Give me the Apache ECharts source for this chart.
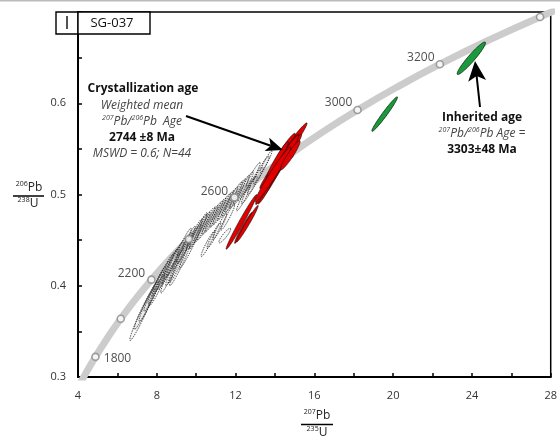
<!DOCTYPE html>
<html><head><meta charset="utf-8">
<script src="https://cdn.jsdelivr.net/npm/echarts@6/dist/echarts.min.js"></script>
<style>html,body{margin:0;padding:0;background:#fff}#c{width:560px;height:436px}</style>
</head><body><div id="c"></div>
<script>
// Concordia curve (ages in Ma) read along the gray band
const concAge = [1600,1700,1800,1900,2000,2100,2200,2300,2400,2500,2600,2700,2800,2900,3000,3100,3200,3300,3400,3500];
const concX = [3.834,4.335,4.887,5.496,6.169,6.910,7.729,8.633,9.630,10.730,11.944,13.283,14.762,16.393,18.193,20.180,22.372,24.791,27.460,30.405];
const concY = [0.2817,0.3018,0.3221,0.3428,0.3638,0.3851,0.4067,0.4287,0.4511,0.4738,0.4968,0.5202,0.5440,0.5681,0.5926,0.6175,0.6428,0.6685,0.6946,0.7211];
const markerAges = [1800,2000,2200,2400,2600,2800,3000,3200,3400];
const labeledAges = [1800,2200,2600,3000,3200];

// Error ellipses: [x(207Pb/235U), y(206Pb/238U), sx, sy, rho]
const grayEllipses = [
  [7.25,0.368,0.62,0.028,0.97],[7.45,0.378,0.60,0.026,0.97],[7.60,0.383,0.50,0.022,0.96],
  [7.80,0.392,0.45,0.020,0.96],[7.95,0.398,0.40,0.018,0.95],[8.10,0.405,0.35,0.016,0.95],
  [8.25,0.410,0.40,0.017,0.95],[8.40,0.415,0.45,0.020,0.96],[8.55,0.418,0.50,0.022,0.96],
  [8.70,0.422,0.45,0.020,0.96],[8.85,0.428,0.50,0.020,0.96],[9.00,0.432,0.50,0.021,0.96],
  [8.90,0.420,0.45,0.020,0.96],[9.10,0.425,0.50,0.022,0.96],[9.30,0.438,0.50,0.020,0.96],
  [9.50,0.445,0.45,0.020,0.96],[9.20,0.425,0.55,0.025,0.97],[9.70,0.443,0.55,0.024,0.97],
  [10.10,0.460,0.45,0.020,0.97],[9.90,0.456,0.40,0.017,0.95],[10.10,0.460,0.45,0.018,0.95],
  [10.30,0.464,0.40,0.017,0.95],[10.50,0.468,0.45,0.018,0.95],[10.70,0.472,0.40,0.016,0.95],
  [10.90,0.476,0.45,0.017,0.95],[11.10,0.480,0.40,0.016,0.95],[11.30,0.484,0.45,0.017,0.95],
  [11.50,0.488,0.40,0.016,0.95],[11.70,0.492,0.40,0.016,0.95],[11.90,0.497,0.45,0.017,0.95],
  [12.10,0.501,0.40,0.016,0.95],[12.30,0.505,0.40,0.016,0.95],[12.50,0.509,0.40,0.016,0.95],
  [12.40,0.496,0.35,0.014,0.95],[12.70,0.505,0.40,0.015,0.95],[13.00,0.515,0.40,0.015,0.95],
  [13.30,0.527,0.40,0.015,0.95],[13.55,0.536,0.30,0.012,0.95],[10.60,0.446,0.35,0.014,0.95],
  [10.90,0.455,0.35,0.014,0.95],[11.20,0.465,0.35,0.014,0.95],[11.60,0.475,0.35,0.014,0.95],
  [11.45,0.455,0.30,0.008,0.90],[8.00,0.395,0.40,0.017,0.95],[8.60,0.410,0.40,0.018,0.95],
  [9.40,0.448,0.35,0.015,0.95],[12.90,0.522,0.35,0.013,0.95]
];
const redEllipses = [
  [14.43,0.5425,1.20,0.036,0.985],[14.23,0.5327,0.80,0.026,0.97],[14.03,0.525,0.75,0.025,0.96],
  [14.48,0.549,0.55,0.018,0.95],[13.82,0.516,0.60,0.022,0.96],[13.62,0.5096,0.50,0.020,0.95],
  [14.73,0.551,0.50,0.015,0.94],[12.30,0.470,0.78,0.030,0.985],[12.40,0.4634,0.45,0.017,0.97],
  [13.42,0.505,0.40,0.016,0.95],[14.13,0.538,0.55,0.020,0.96],[14.90,0.552,0.45,0.014,0.94],
  [14.60,0.545,0.60,0.020,0.96],[13.90,0.522,0.90,0.030,0.975],[12.60,0.468,0.55,0.020,0.98],
  [14.78,0.543,0.50,0.016,0.94]
];
const greenEllipses = [
  [19.57,0.5881,0.65,0.0189,0.975],[23.97,0.6493,0.72,0.0178,0.95]
];

const FONT = "'Open Sans', 'DejaVu Sans', sans-serif";

function ellipseSeries(data, style) {
  return {
    type: 'custom', data: data, clip: true,
    encode: { x: 0, y: 1 },
    renderItem: function (params, api) {
      const cx = api.value(0), cy = api.value(1), sx = api.value(2), sy = api.value(3), r = api.value(4);
      const pts = [];
      const n = 64, k = Math.sqrt(1 - r * r);
      for (let i = 0; i < n; i++) {
        const t = i / n * 2 * Math.PI;
        pts.push(api.coord([cx + sx * Math.cos(t), cy + sy * (r * Math.cos(t) + k * Math.sin(t))]));
      }
      return { type: 'polygon', shape: { points: pts }, style: Object.assign({}, style) };
    }
  };
}

function arrow(x0, y0, x1, y1, L, W, notch) {
  const dx = x1 - x0, dy = y1 - y0, len = Math.hypot(dx, dy);
  const ux = dx / len, uy = dy / len, px = -uy, py = ux;
  const bx = x1 - ux * L, by = y1 - uy * L;
  const nx = x1 - ux * (L - notch), ny = y1 - uy * (L - notch);
  return [
    { type: 'line', shape: { x1: x0, y1: y0, x2: nx, y2: ny }, style: { stroke: '#000', lineWidth: 2 }, z: 100 },
    { type: 'polygon', shape: { points: [[x1, y1], [bx + px * W, by + py * W], [nx, ny], [bx - px * W, by - py * W]] }, style: { fill: '#000' }, z: 100 }
  ];
}

function txt(x, y, text, opts) {
  return {
    type: 'text', x: x, y: y, z: 101,
    style: Object.assign({
      text: text, fontFamily: FONT, fontSize: 12, fill: '#222',
      align: 'center', verticalAlign: 'middle',
      rich: {
        s: { fontSize: 7, fontFamily: FONT, fill: (opts && opts.fill) || '#222', fontStyle: (opts && opts.fontStyle) || 'normal', verticalAlign: 'top', lineHeight: 9 },
        n: { fontSize: (opts && opts.fontSize) || 12, fontFamily: FONT, fill: (opts && opts.fill) || '#222', fontStyle: (opts && opts.fontStyle) || 'normal', fontWeight: (opts && opts.fontWeight) || 'normal', lineHeight: 15 }
      }
    }, opts || {})
  };
}

const concData = concAge.map((a, i) => [concX[i], concY[i]]);
const markerData = markerAges.map(a => {
  const i = concAge.indexOf(a);
  const d = { value: [concX[i], concY[i], a] };
  if (labeledAges.indexOf(a) >= 0) {
    let pos = 'left', off = [2, -6];
    if (a === 1800) { pos = 'right'; off = [0, 2]; }
    if (a >= 3000) { off = [3, -7]; }
    d.label = { show: true, position: pos, offset: off, formatter: String(a), fontSize: 12, color: '#222', fontFamily: FONT, distance: 4 };
  }
  return d;
});

const chart = echarts.init(document.getElementById('c'), null, { renderer: 'canvas' });
chart.setOption({
  animation: false,
  backgroundColor: '#fff',
  grid: { left: 78, right: 8, top: 12, bottom: 59, show: true, borderColor: '#000', borderWidth: 1.5, backgroundColor: 'transparent' },
  xAxis: {
    type: 'value', min: 4, max: 28, interval: 2,
    splitLine: { show: false },
    axisLine: { show: true, onZero: false, lineStyle: { color: '#000', width: 2 } },
    axisTick: { show: true, inside: true, length: 4, lineStyle: { color: '#000', width: 1.5 } },
    axisLabel: { margin: 13, fontSize: 11, color: '#333', fontFamily: FONT,
      formatter: v => (Math.round(v) % 4 === 0 ? String(Math.round(v)) : '') }
  },
  yAxis: {
    type: 'value', min: 0.3, max: 0.7, interval: 0.05,
    splitLine: { show: false },
    axisLine: { show: true, onZero: false, lineStyle: { color: '#000', width: 2 } },
    axisTick: { show: true, inside: true, length: 4, lineStyle: { color: '#000', width: 1.5 } },
    axisLabel: { margin: 12, fontSize: 11, color: '#333', fontFamily: FONT,
      formatter: v => { const k = Math.round(v * 100); return (k % 10 === 0 && k < 70) ? (k / 100).toFixed(1) : ''; } }
  },
  series: [
    { type: 'line', data: concData, smooth: true, showSymbol: false, symbol: 'none', clip: true,
      lineStyle: { color: '#cccccc', width: 7 }, z: 1 },
    Object.assign(ellipseSeries(grayEllipses, { fill: 'rgba(200,200,200,0.12)', stroke: '#222', lineWidth: 0.85, lineDash: [1.4, 1.1] }), { z: 3 }),
    { type: 'scatter', data: markerData, symbol: 'circle', symbolSize: 7,
      itemStyle: { color: '#fff', borderColor: '#8a8a8a', borderWidth: 1.6 }, z: 4 },
    Object.assign(ellipseSeries(redEllipses, { fill: '#e00000', stroke: '#111', lineWidth: 0.6 }), { z: 5 }),
    Object.assign(ellipseSeries(greenEllipses, { fill: '#1a9a3c', stroke: '#0a2a10', lineWidth: 0.8 }), { z: 5 })
  ],
  graphic: [].concat(
    [
      { type: 'rect', shape: { x: 0, y: 0, width: 560, height: 1.5 }, style: { fill: '#bbb' }, z: 100 },
      { type: 'rect', shape: { x: 56, y: 12, width: 22, height: 22 }, style: { fill: '#fff', stroke: '#000', lineWidth: 1.4 }, z: 100 },
      { type: 'rect', shape: { x: 78, y: 12, width: 72, height: 22 }, style: { fill: '#fff', stroke: '#000', lineWidth: 1.4 }, z: 100 },
      txt(67, 24, 'I', { fontSize: 18, fill: '#111' }),
      txt(112, 23.5, 'SG-037', { fontSize: 13, fill: '#111' }),
      // y-axis name
      txt(29, 188, '{s|206}{n|Pb}', {}),
      { type: 'line', shape: { x1: 13, y1: 196, x2: 44, y2: 196 }, style: { stroke: '#000', lineWidth: 1.5 }, z: 100 },
      txt(28, 204, '{s|238}{n|U}', {}),
      // x-axis name
      txt(317, 416, '{s|207}{n|Pb}', {}),
      { type: 'line', shape: { x1: 301, y1: 424.5, x2: 333, y2: 424.5 }, style: { stroke: '#000', lineWidth: 1.5 }, z: 100 },
      txt(317, 433, '{s|235}{n|U}', {}),
      // crystallization annotation
      txt(143, 89, 'Crystallization age', { fontWeight: 'bold', fontSize: 12, fill: '#111' }),
      txt(142, 106, 'Weighted mean', { fontStyle: 'italic', fontSize: 12, fill: '#444' }),
      txt(142, 122, '{s|207}{n|Pb/}{s|206}{n|Pb  Age}', { fontStyle: 'italic', fill: '#444' }),
      txt(142, 138, '2744 ±8 Ma', { fontWeight: 'bold', fontSize: 12, fill: '#111' }),
      txt(142, 154, 'MSWD = 0.6; N=44', { fontStyle: 'italic', fontSize: 12, fill: '#444' }),
      // inherited annotation
      txt(482, 118, 'Inherited age', { fontWeight: 'bold', fontSize: 12, fill: '#111' }),
      txt(482, 134, '{s|207}{n|Pb/}{s|206}{n|Pb Age =}', { fontStyle: 'italic', fill: '#444' }),
      txt(482, 150, '3303±48 Ma', { fontWeight: 'bold', fontSize: 12, fill: '#111' })
    ],
    arrow(186, 116, 283, 150, 17, 7, 4),
    arrow(480, 107, 475, 61, 20, 9, 5)
  )
});
</script></body></html>
